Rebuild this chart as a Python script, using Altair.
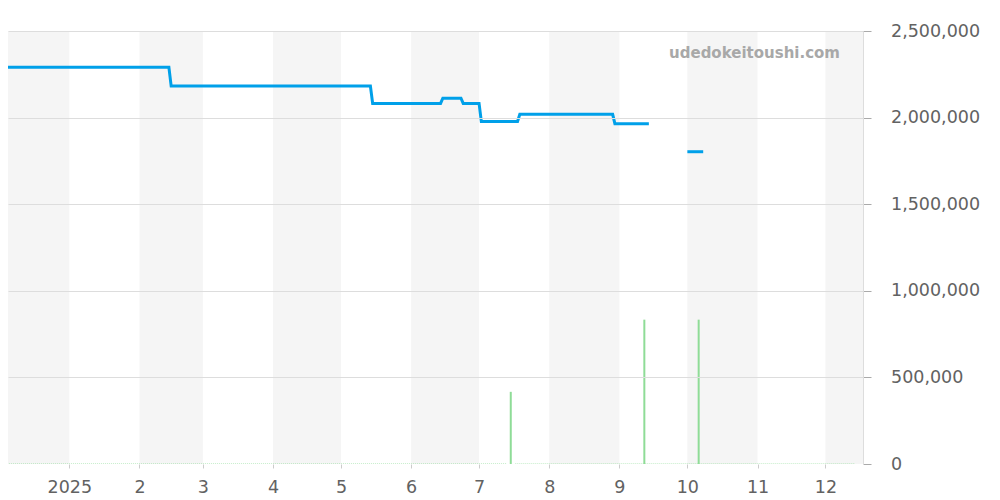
import altair as alt
import pandas as pd

# ---- data ----
price_dates = ["2024-12-01", "2025-02-14", "2025-02-15", "2025-05-14", "2025-05-15",
               "2025-06-14", "2025-06-15", "2025-06-23", "2025-06-24", "2025-07-01",
               "2025-07-02", "2025-07-18", "2025-07-19", "2025-08-29", "2025-08-30",
               "2025-09-14", "2025-10-01", "2025-10-08"]
price_values = [2290000, 2290000, 2182000, 2182000, 2082000, 2082000, 2112000, 2112000,
                2082000, 2082000, 1978000, 1978000, 2019000, 2019000, 1965000, 1965000,
                1803000, 1803000]
price_segment = [1] * 16 + [2] * 2

volume_dates = ["2025-07-15", "2025-09-12", "2025-10-06"]
volume_counts = [1, 2, 2]

baseline_start = ["2024-12-01", "2025-07-17"]
baseline_end = ["2025-07-13", "2025-12-14"]

band_start = ["2024-12-01", "2025-02-01", "2025-04-01", "2025-06-01", "2025-08-01",
              "2025-10-01", "2025-12-01"]
band_end = ["2025-01-01", "2025-03-01", "2025-05-01", "2025-07-01", "2025-09-01",
            "2025-11-01", "2026-01-01"]

y_ticks = [0, 500000, 1000000, 1500000, 2000000, 2500000]
month_ticks = [(2025, m) for m in range(1, 13)]
watermark = "udedokeitoushi.com"


def iso(d):
    return d + "T00:00:00Z"


price_df = pd.DataFrame({"date": [iso(d) for d in price_dates],
                         "price": price_values, "seg": price_segment})
vol_df = pd.DataFrame({"date": [iso(d) for d in volume_dates], "vol": volume_counts})
base_df = pd.DataFrame({"s": [iso(d) for d in baseline_start],
                        "e": [iso(d) for d in baseline_end], "v": [0, 0]})
band_df = pd.DataFrame({"s": [iso(d) for d in band_start], "e": [iso(d) for d in band_end]})

FONT = "DejaVu Sans"
LABEL = "#626262"
FS = 17.5

x_scale = alt.Scale(
    type="utc", padding=0, nice=False,
    domain=[alt.DateTime(year=2024, month=12, date=4, hours=22, minutes=20, utc=True),
            alt.DateTime(year=2025, month=12, date=17, hours=14, minutes=0, utc=True)],
)
x_axis = alt.Axis(
    values=[alt.DateTime(year=y, month=m, date=1, utc=True) for y, m in month_ticks],
    labelExpr="utcmonth(datum.value) == 0 ? '' + utcyear(datum.value) : '' + (utcmonth(datum.value) + 1)",
    domain=False, grid=False, tickSize=4, tickColor="#cccccc",
    labelFontSize=FS, labelColor=LABEL, labelFont=FONT, labelPadding=10.5,
    title=None,
)


def X(field):
    return alt.X(field, scale=x_scale, axis=x_axis)


vol_scale = alt.Scale(domain=[0, 6])

bands = alt.Chart(band_df).mark_rect(color="#f5f5f5", clip=True).encode(
    x=X("s:T"),
    x2="e:T",
)

baseline = alt.Chart(base_df).mark_rule(
    color="#8fdc97", strokeWidth=1, strokeDash=[1, 1], clip=True
).encode(
    x=X("s:T"),
    x2="e:T",
    y=alt.Y("v:Q", scale=vol_scale, axis=None),
)

bars = alt.Chart(vol_df).mark_bar(color="#8fdc97", size=2, clip=True).encode(
    x=X("date:T"),
    y=alt.Y("vol:Q", scale=vol_scale, axis=None),
)

line = alt.Chart(price_df).mark_line(
    color="#00a0e9", strokeWidth=3, clip=True, strokeJoin="miter"
).encode(
    x=X("date:T"),
    y=alt.Y("price:Q", scale=alt.Scale(domain=[0, 2500000]),
            axis=alt.Axis(orient="right", values=y_ticks, format=",d", title=None,
                          grid=True,
                          gridColor=alt.condition("datum.value === 0",
                                                  alt.value("rgba(0,0,0,0)"),
                                                  alt.value("#dddddd")),
                          domain=True, domainColor="#dddddd",
                          tickSize=8, tickColor="#aaaaaa",
                          labelFontSize=FS, labelColor=LABEL, labelFont=FONT,
                          labelPadding=19.5, zindex=1)),
    detail="seg:N",
)

mark_text = alt.Chart(pd.DataFrame({"t": [watermark]})).mark_text(
    align="right", baseline="alphabetic", font=FONT, fontSize=15,
    fontWeight="bold", color="#a8a8a8",
).encode(
    text="t:N",
    x=alt.value(832),
    y=alt.value(26.7),
)

chart = alt.layer(bands, baseline, bars, line, mark_text).resolve_scale(
    y="independent"
).properties(
    width=855, height=433,
    autosize=alt.AutoSizeParams(type="none"),
    padding={"left": 0, "top": 23, "right": 129, "bottom": 36},
).configure_view(stroke=None)

chart.save("out.html", embed_options={"renderer": "svg", "actions": False})
